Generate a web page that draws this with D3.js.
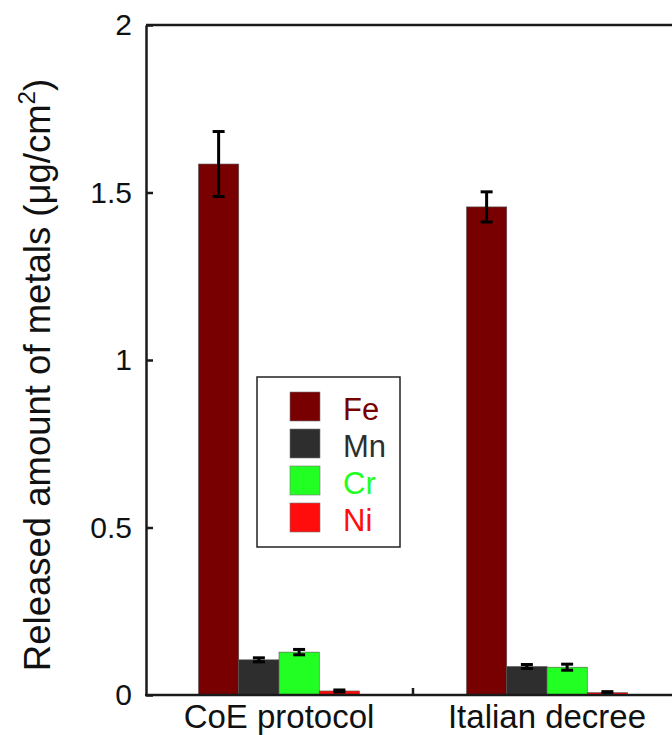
<!DOCTYPE html>
<html>
<head>
<meta charset="utf-8">
<script src="https://cdn.jsdelivr.net/npm/d3@7"></script>
<style>
  html, body { margin: 0; padding: 0; background: #fff; }
  svg { display: block; font-family: "Liberation Sans", Arial, sans-serif; }
</style>
</head>
<body>
<svg id="chart" width="672" height="735"></svg>
<script>
// ---- data ----
const categories = ["CoE protocol", "Italian decree"];
const metals = ["Fe", "Mn", "Cr", "Ni"];
const feValues = [1.585, 1.457];
const feErrors = [0.097, 0.045];
const mnValues = [0.105, 0.085];
const mnErrors = [0.006, 0.006];
const crValues = [0.128, 0.083];
const crErrors = [0.008, 0.009];
const niValues = [0.012, 0.007];
const niErrors = [0.003, 0.003];
const yTicks = [0, 0.5, 1, 1.5, 2];
const yTickLabels = ["0", "0.5", "1", "1.5", "2"];
const metalColors = ["#780000", "#2e2e2e", "#22ff22", "#ff0d0d"];

const seriesValues = [feValues, mnValues, crValues, niValues];
const seriesErrors = [feErrors, mnErrors, crErrors, niErrors];
const rows = [];
categories.forEach((c, ci) => {
  metals.forEach((m, mi) => {
    rows.push({ cat: c, metal: m, value: seriesValues[mi][ci], err: seriesErrors[mi][ci] });
  });
});

// ---- layout ----
const svg = d3.select("#chart");
const mLeft = 146, mTop = 25, mBottom = 695, mRight = 681;

const x0 = d3.scaleBand().domain(categories).range([mLeft - 1, mRight]).padding(0);
const groupW = 161;
const x1 = d3.scaleBand().domain(metals)
  .range([(x0.bandwidth() - groupW) / 2, (x0.bandwidth() + groupW) / 2]).padding(0);
const y = d3.scaleLinear().domain([0, 2]).range([mBottom, mTop]);
const color = d3.scaleOrdinal().domain(metals).range(metalColors);

// bars
svg.append("g").selectAll("rect").data(rows).join("rect")
  .attr("x", d => x0(d.cat) + x1(d.metal))
  .attr("y", d => y(d.value))
  .attr("width", x1.bandwidth())
  .attr("height", d => y(0) - y(d.value))
  .attr("fill", d => color(d.metal))
  .attr("stroke", "#555")
  .attr("stroke-width", 0.6);

// error bars
const eb = svg.append("g").attr("stroke", "#000").attr("stroke-width", 3);
rows.forEach(d => {
  const cx = x0(d.cat) + x1(d.metal) + x1.bandwidth() / 2;
  const y1 = y(d.value + d.err), y2 = y(d.value - d.err);
  eb.append("line").attr("x1", cx).attr("x2", cx).attr("y1", y1).attr("y2", y2);
  eb.append("line").attr("x1", cx - 6).attr("x2", cx + 6).attr("y1", y1).attr("y2", y1);
  eb.append("line").attr("x1", cx - 6).attr("x2", cx + 6).attr("y1", y2).attr("y2", y2);
});

// top frame line
svg.append("line").attr("x1", mLeft).attr("x2", 672).attr("y1", y(2)).attr("y2", y(2))
  .attr("stroke", "#1a1a1a").attr("stroke-width", 2.5);

// y axis
const yAxis = d3.axisLeft(y).tickValues(yTicks)
  .tickFormat((d, i) => yTickLabels[i]).tickSizeInner(-7).tickSizeOuter(0).tickPadding(14);
const gy = svg.append("g").attr("transform", `translate(${mLeft},0)`).call(yAxis);
gy.select(".domain").attr("stroke", "#1a1a1a").attr("stroke-width", 2.5);
gy.selectAll(".tick line").attr("stroke", "#1a1a1a").attr("stroke-width", 2.5);
gy.selectAll(".tick text").attr("font-size", 30).attr("fill", "#111")
  .attr("font-family", "Liberation Sans, Arial, sans-serif");

// x axis
const xAxis = d3.axisBottom(x0).tickSize(0).tickPadding(0);
const gx = svg.append("g").attr("transform", `translate(0,${mBottom})`).call(xAxis);
gx.select(".domain").remove();
gx.append("line").attr("x1", mLeft - 1).attr("x2", 672).attr("y1", 0).attr("y2", 0)
  .attr("stroke", "#1a1a1a").attr("stroke-width", 2.5);
gx.selectAll(".tick text").attr("font-size", 33).attr("fill", "#111")
  .attr("dy", null).attr("y", 33)
  .attr("font-family", "Liberation Sans, Arial, sans-serif");
// separator tick between groups
categories.slice(1).forEach(c => {
  gx.append("line").attr("x1", x0(c)).attr("x2", x0(c)).attr("y1", 0).attr("y2", -7)
    .attr("stroke", "#1a1a1a").attr("stroke-width", 2.5);
});

// y title
const yt = svg.append("text")
  .attr("transform", `translate(50,${(78 + 672) / 2}) rotate(-90)`)
  .attr("text-anchor", "middle").attr("font-size", 36.5).attr("fill", "#111");
yt.append("tspan").text("Released amount of metals (μg/cm");
yt.append("tspan").attr("font-size", 24).attr("dy", -15).text("2");
yt.append("tspan").attr("dy", 15).text(")");

// legend
const lg = svg.append("g");
lg.append("rect").attr("x", 257).attr("y", 377).attr("width", 143).attr("height", 170)
  .attr("fill", "#fff").attr("stroke", "#222").attr("stroke-width", 1.5);
metals.forEach((m, i) => {
  const yy = 392 + i * 37;
  lg.append("rect").attr("x", 290).attr("y", yy).attr("width", 30).attr("height", 29)
    .attr("fill", color(m)).attr("stroke", "#777").attr("stroke-width", 0.6);
  lg.append("text").attr("x", 343).attr("y", yy + 28).attr("font-size", 31)
    .attr("fill", color(m)).text(m);
});
</script>
</body>
</html>
